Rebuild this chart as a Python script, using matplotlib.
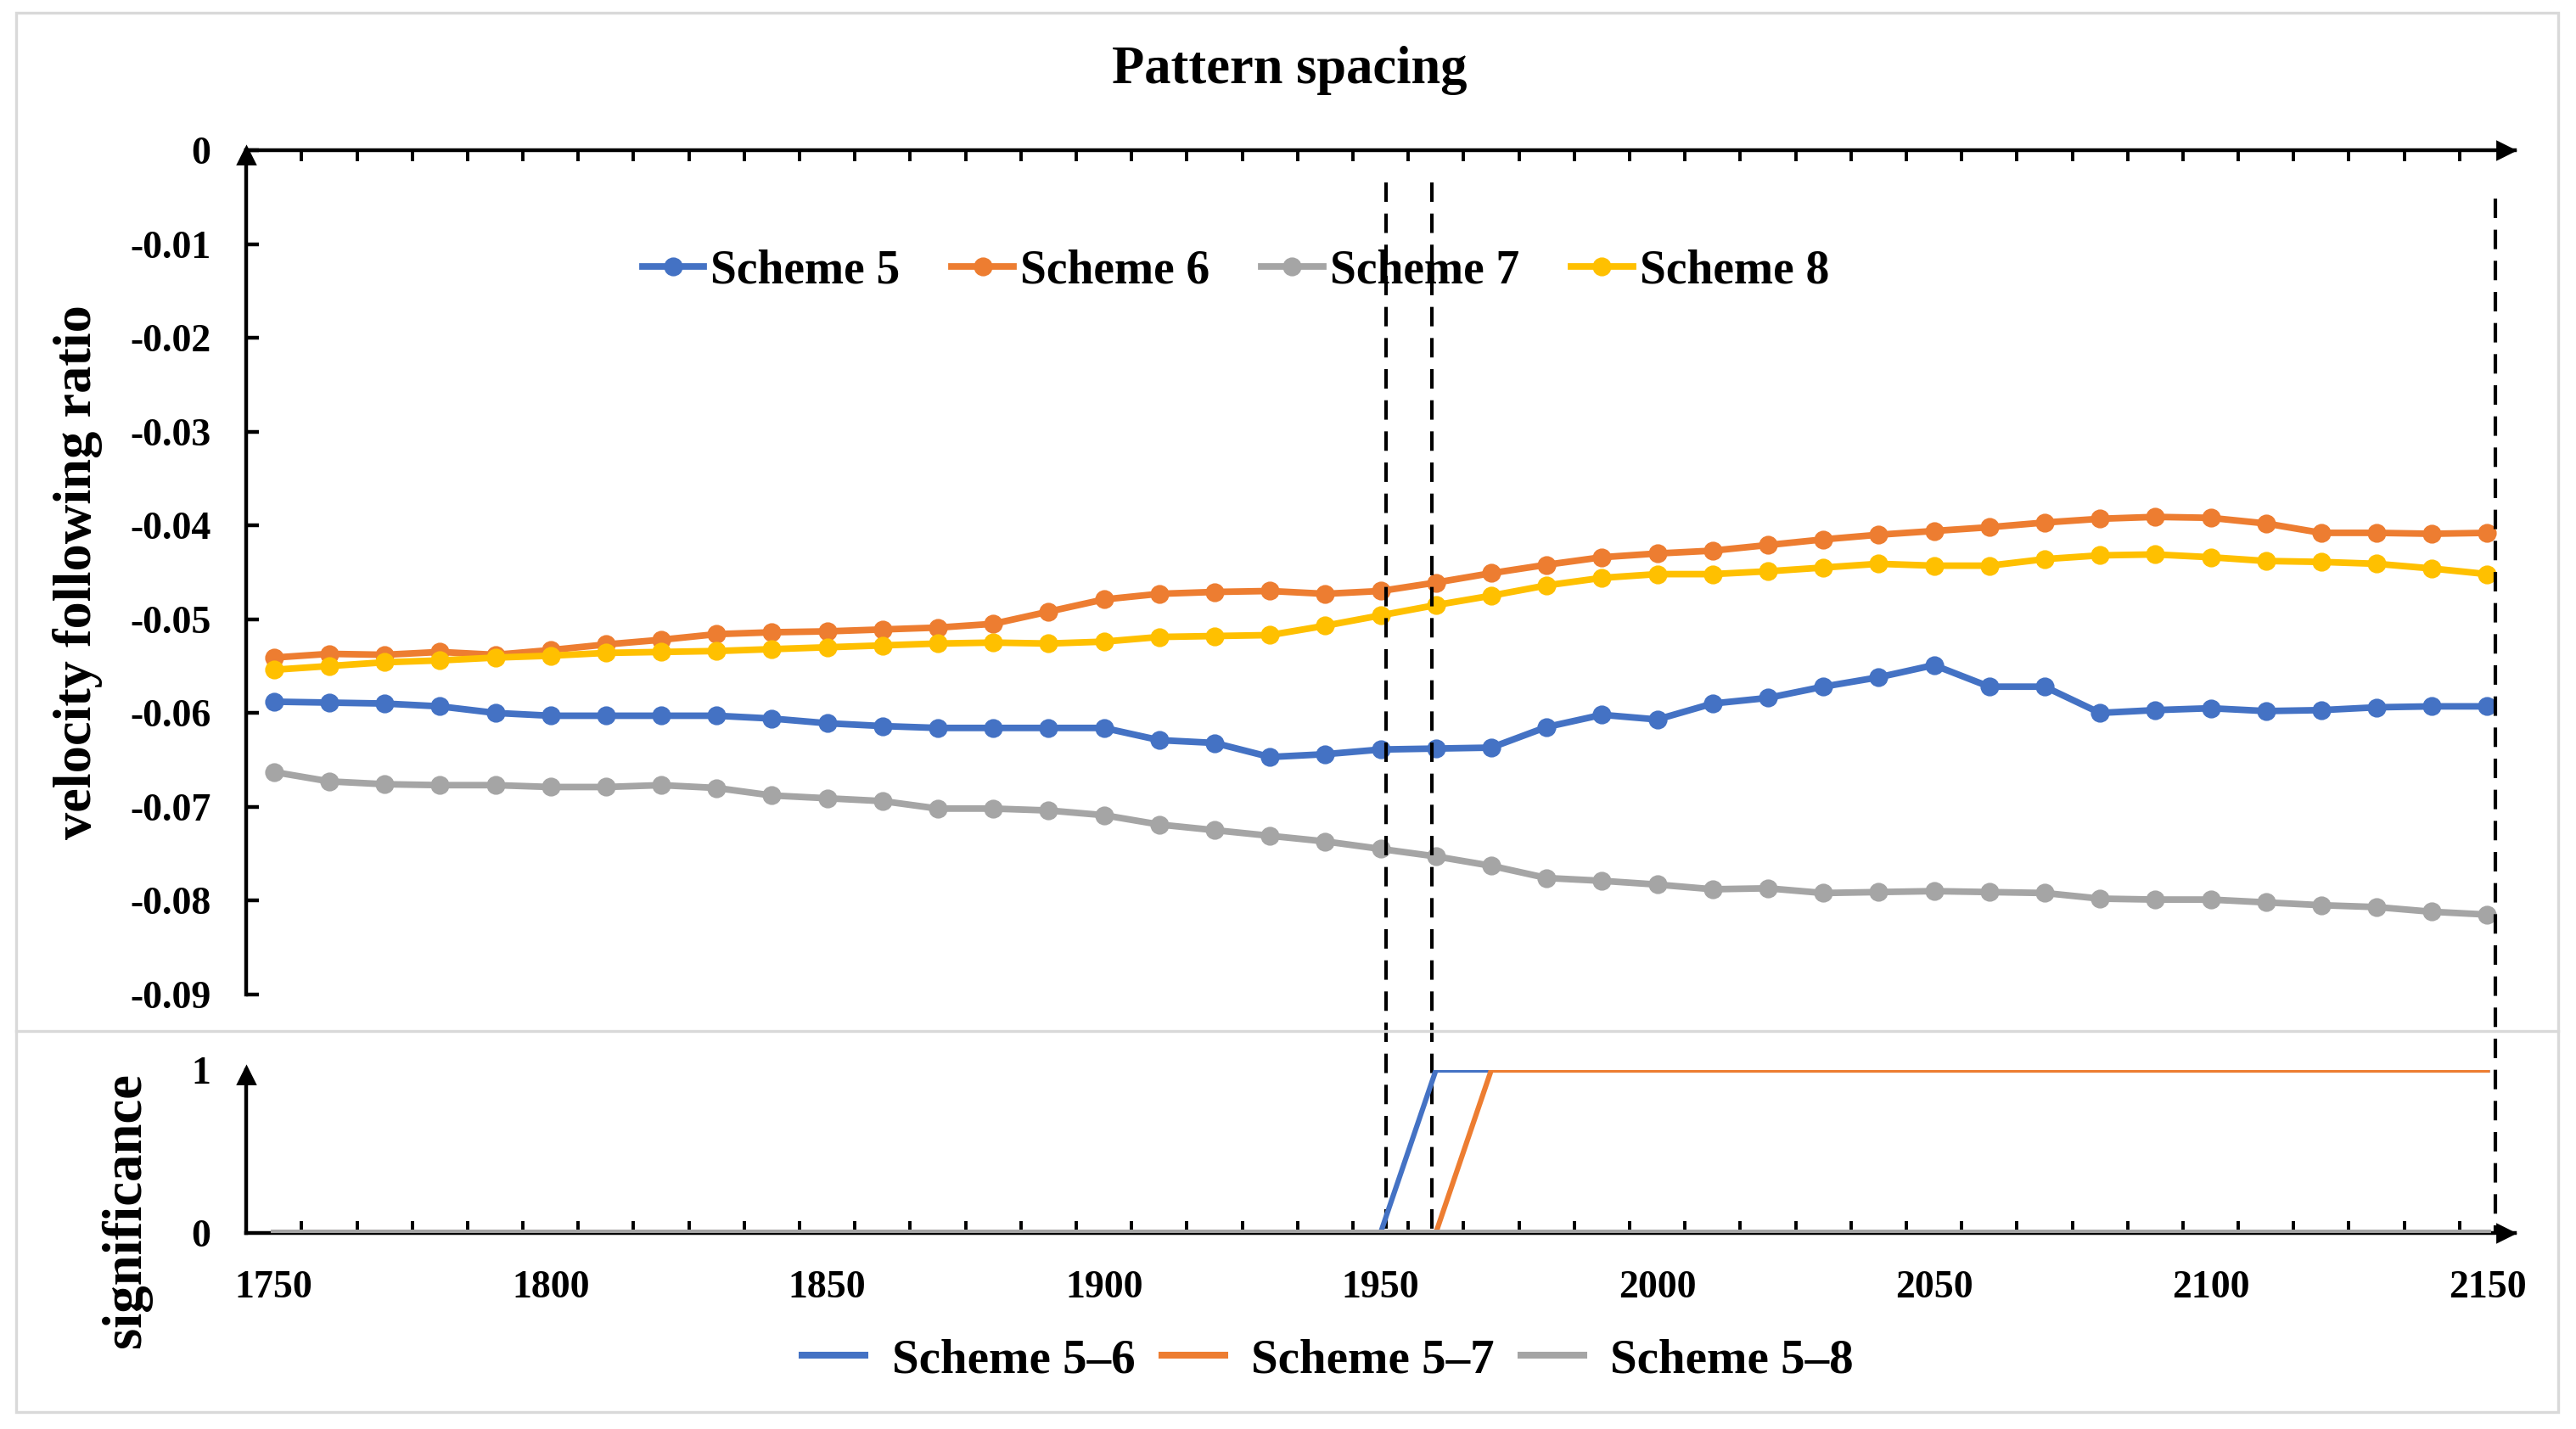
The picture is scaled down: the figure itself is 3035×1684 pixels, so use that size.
import matplotlib
matplotlib.use('Agg')
import matplotlib.pyplot as plt
from matplotlib.lines import Line2D
from matplotlib.patches import Rectangle
from matplotlib import transforms

plt.rcParams['font.family'] = ['Liberation Serif', 'DejaVu Serif']
plt.rcParams['font.weight'] = 'bold'

# ---- data ----
years = list(range(1750, 2151, 10))

scheme5 = [-0.0588, -0.0589, -0.0590, -0.0593, -0.0600, -0.0603, -0.0603, -0.0603, -0.0603, -0.0606,
           -0.0611, -0.0614, -0.0616, -0.0616, -0.0616, -0.0616, -0.0629, -0.0632, -0.0647, -0.0644,
           -0.0639, -0.0638, -0.0637, -0.0615, -0.0602, -0.0607, -0.0590, -0.0584, -0.0572, -0.0562,
           -0.0549, -0.0572, -0.0572, -0.0600, -0.0597, -0.0595, -0.0598, -0.0597, -0.0594, -0.0593,
           -0.0593]
scheme6 = [-0.0541, -0.0537, -0.0538, -0.0535, -0.0538, -0.0533, -0.0527, -0.0522, -0.0516, -0.0514,
           -0.0513, -0.0511, -0.0509, -0.0505, -0.0492, -0.0479, -0.0473, -0.0471, -0.0470, -0.0473,
           -0.0470, -0.0461, -0.0451, -0.0442, -0.0434, -0.0430, -0.0427, -0.0421, -0.0415, -0.0410,
           -0.0406, -0.0402, -0.0397, -0.0393, -0.0391, -0.0392, -0.0398, -0.0408, -0.0408, -0.0409,
           -0.0408]
scheme7 = [-0.0663, -0.0673, -0.0676, -0.0677, -0.0677, -0.0679, -0.0679, -0.0677, -0.0680, -0.0688,
           -0.0691, -0.0694, -0.0702, -0.0702, -0.0704, -0.0709, -0.0719, -0.0725, -0.0731, -0.0737,
           -0.0745, -0.0753, -0.0763, -0.0776, -0.0779, -0.0783, -0.0788, -0.0787, -0.0792, -0.0791,
           -0.0790, -0.0791, -0.0792, -0.0798, -0.0799, -0.0799, -0.0802, -0.0805, -0.0807, -0.0812,
           -0.0815]
scheme8 = [-0.0554, -0.0550, -0.0546, -0.0544, -0.0541, -0.0539, -0.0536, -0.0535, -0.0534, -0.0532,
           -0.0530, -0.0528, -0.0526, -0.0525, -0.0526, -0.0524, -0.0519, -0.0518, -0.0517, -0.0507,
           -0.0496, -0.0485, -0.0475, -0.0464, -0.0456, -0.0452, -0.0452, -0.0449, -0.0445, -0.0441,
           -0.0443, -0.0443, -0.0436, -0.0432, -0.0431, -0.0434, -0.0438, -0.0439, -0.0441, -0.0446,
           -0.0452]

sig_5_6 = [0, 0, 0, 0, 0, 0, 0, 0, 0, 0,
           0, 0, 0, 0, 0, 0, 0, 0, 0, 0,
           0, 1, 1, 1, 1, 1, 1, 1, 1, 1,
           1, 1, 1, 1, 1, 1, 1, 1, 1, 1,
           1]
sig_5_7 = [0, 0, 0, 0, 0, 0, 0, 0, 0, 0,
           0, 0, 0, 0, 0, 0, 0, 0, 0, 0,
           0, 0, 1, 1, 1, 1, 1, 1, 1, 1,
           1, 1, 1, 1, 1, 1, 1, 1, 1, 1,
           1]
sig_5_8 = [0, 0, 0, 0, 0, 0, 0, 0, 0, 0,
           0, 0, 0, 0, 0, 0, 0, 0, 0, 0,
           0, 0, 0, 0, 0, 0, 0, 0, 0, 0,
           0, 0, 0, 0, 0, 0, 0, 0, 0, 0,
           0]

series_names = ['Scheme 5', 'Scheme 6', 'Scheme 7', 'Scheme 8']
sig_names = ['Scheme 5\u20136', 'Scheme 5\u20137', 'Scheme 5\u20138']
y_ticks = [0, -0.01, -0.02, -0.03, -0.04, -0.05, -0.06, -0.07, -0.08, -0.09]
y_tick_labels = ['0', '-0.01', '-0.02', '-0.03', '-0.04', '-0.05', '-0.06', '-0.07', '-0.08', '-0.09']
x_label_years = [1750, 1800, 1850, 1900, 1950, 2000, 2050, 2100, 2150]
marker_years = [1951, 1959.2, 2151.5]

BLUE, ORANGE, GRAY, YELLOW = '#4472C4', '#ED7D31', '#A5A5A5', '#FFC000'

W, H = 3035, 1684
fig = plt.figure(figsize=(W / 200, H / 200), dpi=200)

ax = fig.add_axes([0.0956, 0.3042, 0.8807, 0.5907])
ax2 = fig.add_axes([0.0956, 0.1374, 0.8807, 0.1138])
for a in (ax, ax2):
    a.set_facecolor('none')
    a.set_xlim(1745, 2155)

# ---- top panel ----
handles = []
for vals, name, col in zip([scheme5, scheme6, scheme7, scheme8], series_names,
                           [BLUE, ORANGE, GRAY, YELLOW]):
    ln, = ax.plot(years, vals, color=col, lw=2.8, marker='o', ms=7,
                  label=name, solid_joinstyle='round', zorder=3)
    handles.append(ln)

ax.set_ylim(-0.09, 0)
for s in ['bottom', 'right']:
    ax.spines[s].set_visible(False)
for s in ['top', 'left']:
    ax.spines[s].set_linewidth(1.6)
ax.xaxis.tick_top()
boundaries = [y + 5 for y in years[:-1]]
ax.set_xticks(boundaries)
ax.tick_params(axis='x', direction='in', length=4.8, width=1.4, labeltop=False)
ax.set_yticks(y_ticks)
ax.set_yticklabels(y_tick_labels)
ax.tick_params(axis='y', direction='in', length=5.4, width=1.6, pad=15, labelsize=16.5)
ax.plot(0.996, 1, '>', color='k', ms=7, transform=ax.transAxes, clip_on=False, zorder=5)
ax.plot(0, 0.994, '^', color='k', ms=7, transform=ax.transAxes, clip_on=False, zorder=5)

ax.legend(handles=handles, loc='center', bbox_to_anchor=(0.4797, 0.8105),
          bbox_transform=fig.transFigure, ncol=4, frameon=False,
          prop={'family': 'Liberation Serif', 'weight': 'bold', 'size': 20},
          handlelength=1.3, handletextpad=0.15, columnspacing=1.1)

# ---- bottom panel ----
for vals, col in zip([sig_5_6, sig_5_7, sig_5_8], [BLUE, ORANGE, GRAY]):
    ax2.plot(years, vals, color=col, lw=2.2 if col != GRAY else 3.2, zorder=3)
ax2.set_ylim(0, 1)
for s in ['top', 'right']:
    ax2.spines[s].set_visible(False)
for s in ['bottom', 'left']:
    ax2.spines[s].set_linewidth(1.6)
ax2.set_xticks(x_label_years)
ax2.set_xticklabels([str(y) for y in x_label_years])
ax2.set_xticks(boundaries, minor=True)
ax2.tick_params(axis='x', which='major', length=0, pad=16, labelsize=16.5)
ax2.tick_params(axis='x', which='minor', direction='in', length=5, width=1.4)
ax2.set_yticks([0, 1])
ax2.set_yticklabels(['0', '1'])
ax2.tick_params(axis='y', direction='in', length=0, pad=15, labelsize=16.5)
ax2.plot(0.996, 0, '>', color='k', ms=7, transform=ax2.transAxes, clip_on=False, zorder=5)
ax2.plot(0, 0.97, '^', color='k', ms=7, transform=ax2.transAxes, clip_on=False, zorder=5)

sig_handles = [Line2D([], [], color=c, lw=2.9) for c in [BLUE, ORANGE, GRAY]]
fig.legend(handles=sig_handles, labels=sig_names, loc='center', bbox_to_anchor=(0.5155, 0.048),
           ncol=3, frameon=False, prop={'family': 'Liberation Serif', 'weight': 'bold', 'size': 20.5},
           handlelength=1.3, handletextpad=0.55, columnspacing=0.55)

# ---- dashed guide lines spanning both panels ----
trans = transforms.blended_transform_factory(ax.transData, fig.transFigure)
for yr, top in zip(marker_years, [0.8723, 0.8723, 0.861]):
    ax.add_line(Line2D([yr, yr], [top, 0.1374], transform=trans, color='k', lw=1.5,
                       dashes=(5.5, 3.3), clip_on=False, zorder=6))

# ---- texts ----
fig.text(0.5005, 0.9507, 'Pattern spacing', ha='center', va='center', fontsize=22.5, fontweight='bold')
fig.text(0.030, 0.600, 'velocity following ratio', rotation=90, ha='center', va='center',
         fontsize=23.2, fontweight='bold')
fig.text(0.049, 0.153, 'significance', rotation=90, ha='center', va='center',
         fontsize=23.3, fontweight='bold')

# ---- chart frame and divider ----
fig.patches.append(Rectangle((19 / W, 1 - 1664 / H), (3014 - 19) / W, (1664 - 15) / H,
                             transform=fig.transFigure, fill=False, ec='#D9D9D9', lw=1.2))
fig.lines.append(Line2D([19 / W, 3014 / W], [1 - 1215 / H] * 2, transform=fig.transFigure,
                        color='#D9D9D9', lw=1.2))

fig.savefig('out.png', dpi=200, facecolor='white')
